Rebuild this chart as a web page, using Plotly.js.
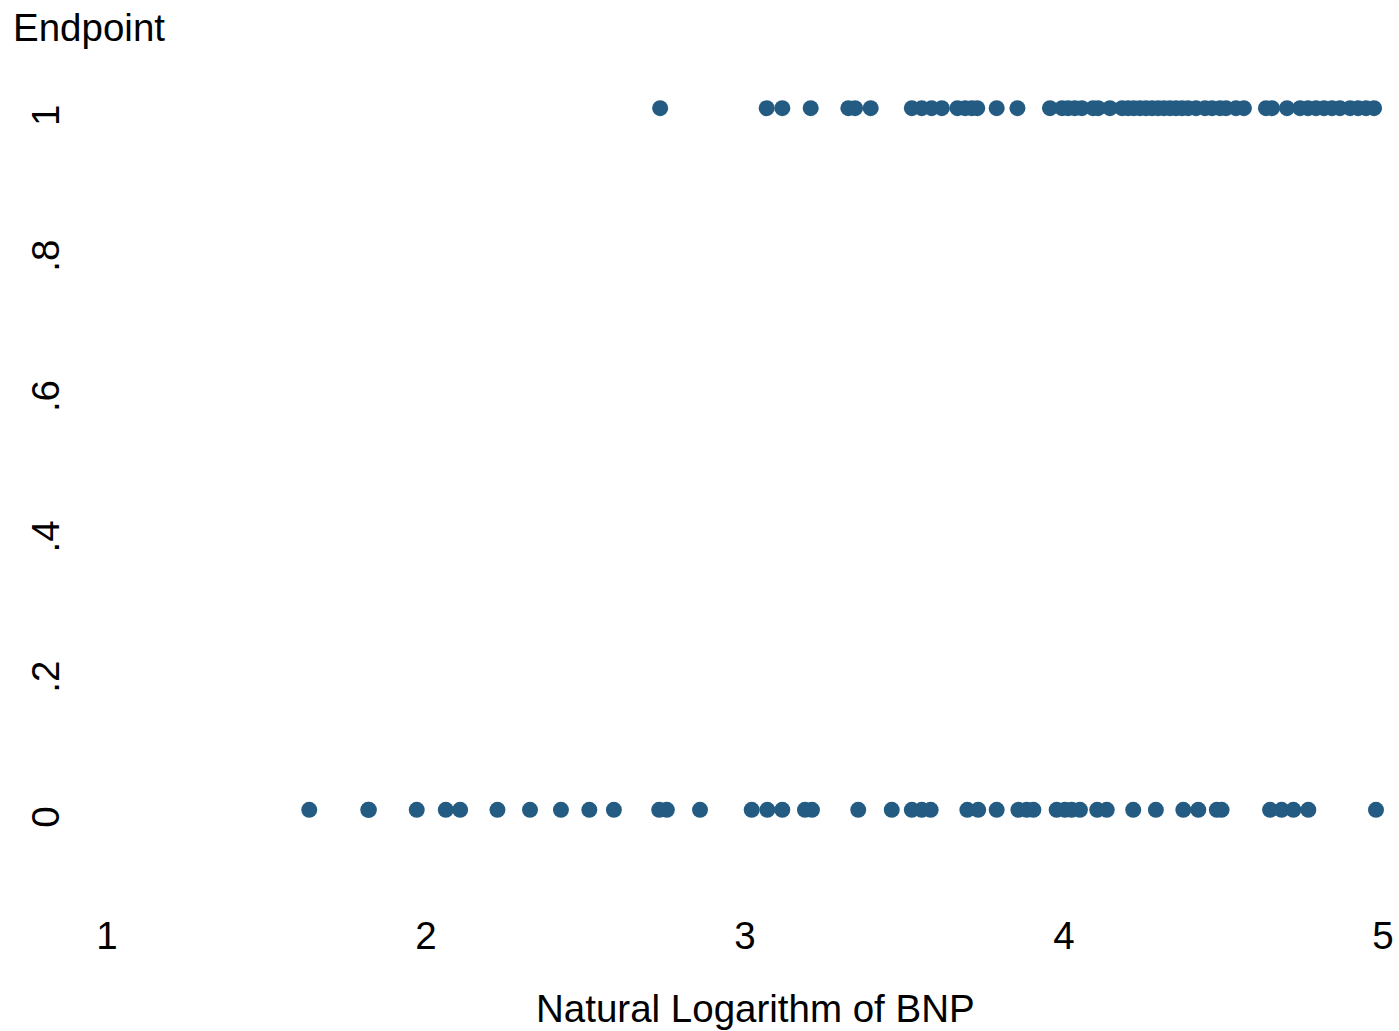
<!DOCTYPE html>
<html>
<head>
<meta charset="utf-8">
<script src="https://cdn.plot.ly/plotly-3.0.1.min.js"></script>
<style>html,body{margin:0;padding:0;background:#fff;}#chart{width:1399px;height:1031px;}</style>
</head>
<body>
<div id="chart"></div>
<script>
// Endpoint = 0 group: natural log of BNP
const lnbnpEndpoint0 = [1.634, 1.819, 1.821, 1.971, 2.062, 2.107, 2.224, 2.326, 2.423, 2.512, 2.589,
  2.731, 2.755, 2.859, 3.021, 3.070, 3.117, 3.188, 3.210, 3.355, 3.460, 3.523, 3.554, 3.582,
  3.697, 3.731, 3.789, 3.857, 3.883, 3.904, 3.977, 4.003, 4.024, 4.050, 4.104, 4.134, 4.217,
  4.288, 4.374, 4.421, 4.479, 4.494, 4.646, 4.682, 4.719, 4.766, 4.978];
// Endpoint = 1 group
const lnbnpEndpoint1 = [2.734, 3.068, 3.117, 3.206, 3.324, 3.345, 3.394, 3.523, 3.554, 3.585, 3.617,
  3.666, 3.690, 3.711, 3.728, 3.789, 3.854, 3.956, 3.994, 4.013, 4.034, 4.056, 4.091, 4.107,
  4.144, 4.182, 4.201, 4.219, 4.238, 4.257, 4.276, 4.295, 4.313, 4.332, 4.351, 4.370, 4.389,
  4.414, 4.442, 4.464, 4.489, 4.508, 4.539, 4.564, 4.633, 4.652, 4.699, 4.740, 4.765, 4.790,
  4.815, 4.840, 4.865, 4.897, 4.922, 4.947, 4.972];
const xTickVals = [1, 2, 3, 4, 5];
const yTickVals = [0, 0.2, 0.4, 0.6, 0.8, 1];
const yTickText = ["0", ".2", ".4", ".6", ".8", "1"];
const xTitle = "Natural Logarithm of BNP";
const yTitle = "Endpoint";

const xs = lnbnpEndpoint0.concat(lnbnpEndpoint1);
const ys = lnbnpEndpoint0.map(() => 0).concat(lnbnpEndpoint1.map(() => 1));

const font = {family: "Liberation Sans, Arial, sans-serif", size: 38.5, color: "#000"};

const trace = {
  x: xs, y: ys, type: "scatter", mode: "markers",
  marker: {size: 16, color: "#235b82", line: {width: 0}},
  cliponaxis: false, hoverinfo: "x+y"
};
// invisible helper trace that carries the (slightly offset) y tick labels
const labelTrace = {x: [null], y: [null], yaxis: "y2", type: "scatter", mode: "markers",
  showlegend: false, hoverinfo: "skip"};

const yRange = [-0.1, 1.1];
const labelShift = 13 / 702; // Stata-style label offset in data units

const layout = {
  width: 1399, height: 1031,
  paper_bgcolor: "#fff", plot_bgcolor: "#fff",
  margin: {l: 107, r: 16, t: 38, b: 151},
  showlegend: false,
  font: font,
  xaxis: {
    range: [1, 5], tickvals: xTickVals, ticktext: xTickVals.map(String),
    showgrid: false, zeroline: false, showline: false, ticks: "",
    ticklabelstandoff: 29, tickfont: font
  },
  yaxis: {
    range: yRange, tickvals: yTickVals, showticklabels: false,
    showgrid: false, zeroline: false, showline: false, ticks: ""
  },
  yaxis2: {
    overlaying: "y", side: "left",
    range: [yRange[0] + labelShift, yRange[1] + labelShift],
    tickvals: yTickVals, ticktext: yTickText,
    showgrid: false, zeroline: false, showline: false, ticks: "",
    tickangle: -90, ticklabelstandoff: 39, tickfont: font
  },
  annotations: [
    {text: yTitle, xref: "paper", yref: "paper", x: -0.075, y: 1.0,
     xanchor: "left", yanchor: "middle", showarrow: false, font: font},
    {text: xTitle, xref: "paper", yref: "paper", x: 0.5086, y: 0,
     xanchor: "center", yanchor: "middle", yshift: -128, showarrow: false, font: font}
  ]
};
layout.annotations[0].y = 1 + (38 - 27) / (1031 - 38 - 151);

Plotly.newPlot("chart", [trace, labelTrace], layout, {displayModeBar: false, staticPlot: true});
</script>
</body>
</html>
